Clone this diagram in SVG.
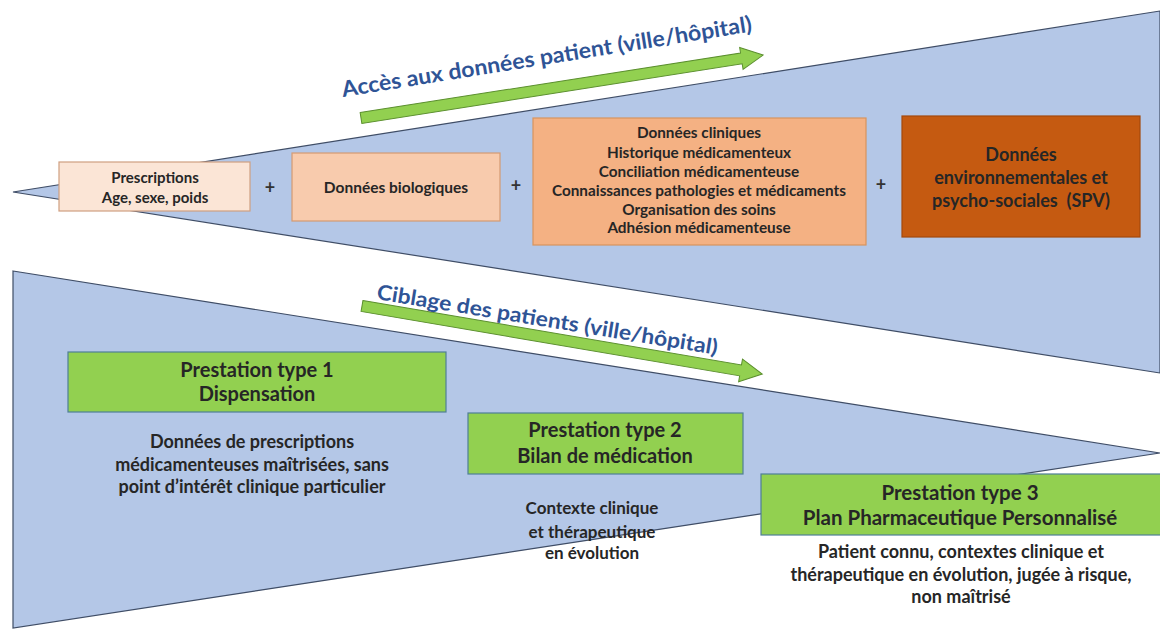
<svg xmlns="http://www.w3.org/2000/svg" width="1160" height="630" viewBox="0 0 1160 630">
<style>
.tri{fill:#b4c7e7;stroke:#3f4d66;stroke-width:1.2}
.t{font-family:Lato,"Open Sans","Liberation Sans",sans-serif;font-weight:700;fill:#262626;text-anchor:middle}
.ttl{font-family:Lato,"Open Sans","Liberation Sans",sans-serif;font-weight:700;fill:#2f5496}
.g{fill:#92d050;stroke:#4f7f96;stroke-width:1.2}
.arr{fill:#92d050;stroke:#5b8f2e;stroke-width:1}
.plus{font-family:Lato,"Liberation Sans",sans-serif;font-weight:700;font-size:18px;fill:#333;text-anchor:middle}
</style>
<rect width="1160" height="630" fill="#ffffff"/>
<g id="bands">
<polygon class="tri" points="13,192 1160,11 1160,373"/>
<polygon class="tri" points="13,271 1160,453 13,628"/>
</g>
<g id="connectors">
<g transform="translate(361,118) rotate(-8.9)">
<polygon class="arr" points="0,-5.5 385,-5.5 385,-11 407,0 385,11 385,5.5 0,5.5"/>
</g>
<g transform="translate(362,306) rotate(9.65)">
<polygon class="arr" points="0,-5.5 384,-5.5 384,-11.5 406,0 384,11.5 384,5.5 0,5.5"/>
</g>
<text class="plus" x="270" y="194">+</text>
<text class="plus" x="516" y="192">+</text>
<text class="plus" x="881" y="191">+</text>
</g>
<g id="title-acces">
<text class="ttl" font-size="22" transform="translate(343,97) rotate(-9.1)" textLength="415" lengthAdjust="spacingAndGlyphs">Accès aux données patient (ville/hôpital)</text>
</g>
<g id="title-ciblage">
<text class="ttl" font-size="21" transform="translate(376,299) rotate(9.3)" textLength="345" lengthAdjust="spacingAndGlyphs">Ciblage des patients (ville/hôpital)</text>
</g>
<g id="box-prescriptions">
<rect x="59" y="162" width="191" height="49" fill="#fbe5d6" stroke="#cf9f80" stroke-width="1.2"/>
<text class="t" font-size="15" x="155" y="182.5">Prescriptions</text>
<text class="t" font-size="15" x="155" y="202.5">Age, sexe, poids</text>
</g>
<g id="box-biologiques">
<rect x="292" y="153" width="208" height="68" fill="#f8cbad" stroke="#d49a72" stroke-width="1.2"/>
<text class="t" font-size="15.5" x="396" y="192.5">Données biologiques</text>
</g>
<g id="box-cliniques">
<rect x="533" y="118" width="333" height="127" fill="#f4b183" stroke="#d8935e" stroke-width="1.2"/>
<text class="t" font-size="15.3" x="699" y="138">Données cliniques</text>
<text class="t" font-size="15.3" x="699" y="158">Historique médicamenteux</text>
<text class="t" font-size="15.3" x="699" y="177">Conciliation médicamenteuse</text>
<text class="t" font-size="15.3" x="699" y="196">Connaissances pathologies et médicaments</text>
<text class="t" font-size="15.3" x="699" y="215">Organisation des soins</text>
<text class="t" font-size="15.3" x="699" y="233">Adhésion médicamenteuse</text>
</g>
<g id="box-environnementales">
<rect x="902" y="116" width="238" height="121" fill="#c55a11" stroke="#a4480d" stroke-width="1.2"/>
<text class="t" font-size="18" x="1021" y="160.5" fill="#1a1a1a">Données</text>
<text class="t" font-size="18" x="1021" y="183.5" fill="#1a1a1a">environnementales et</text>
<text class="t" font-size="18" x="1021" y="206.5" fill="#1a1a1a" style="white-space:pre">psycho-sociales  (SPV)</text>
</g>
<g id="prestation-1">
<rect class="g" x="68" y="352" width="378" height="60"/>
<text class="t" font-size="20" x="257" y="377">Prestation type 1</text>
<text class="t" font-size="20" x="257" y="401">Dispensation</text>
<text class="t" font-size="18" x="252" y="447.5">Données de prescriptions</text>
<text class="t" font-size="18" x="252" y="470.5">médicamenteuses maîtrisées, sans</text>
<text class="t" font-size="18" x="252" y="492.5">point d’intérêt clinique particulier</text>
</g>
<g id="prestation-2">
<rect class="g" x="468" y="413" width="275" height="61"/>
<text class="t" font-size="20" x="605" y="437">Prestation type 2</text>
<text class="t" font-size="20" x="605" y="463">Bilan de médication</text>
<text class="t" font-size="17" x="592" y="514">Contexte clinique</text>
<text class="t" font-size="17" x="592" y="538">et thérapeutique</text>
<text class="t" font-size="17" x="592" y="559">en évolution</text>
</g>
<g id="prestation-3">
<rect class="g" x="761" y="474" width="405" height="61"/>
<text class="t" font-size="20.5" x="960" y="500">Prestation type 3</text>
<text class="t" font-size="20.5" x="960" y="525">Plan Pharmaceutique Personnalisé</text>
<text class="t" font-size="18" x="961" y="557.5">Patient connu, contextes clinique et</text>
<text class="t" font-size="18" x="961" y="580.5">thérapeutique en évolution, jugée à risque,</text>
<text class="t" font-size="18" x="961" y="602.5">non maîtrisé</text>
</g>
</svg>
